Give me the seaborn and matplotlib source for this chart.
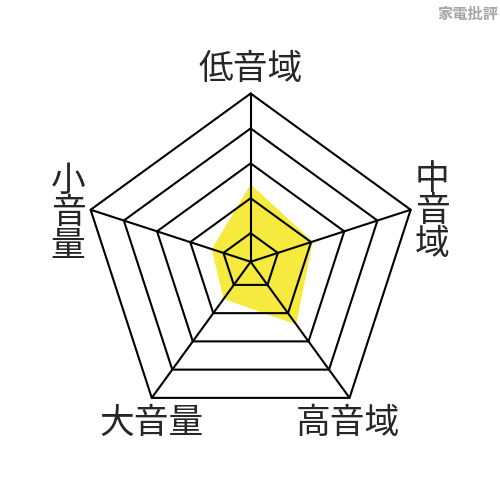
import numpy as np
import pandas as pd
import matplotlib
matplotlib.use("Agg")
import matplotlib.pyplot as plt
import seaborn as sns

# Dados do radar
categorias = ["低音域", "中音域", "高音域", "大音量", "小音量"]
valores = [2.4, 2.05, 2.4, 1.5, 1.35]
niveis = [1, 2, 3, 4, 5]
marca = "家電批評"

sns.set_theme(style="white")
plt.rcParams['font.family'] = ['Noto Sans CJK JP', 'DejaVu Sans']

n = len(categorias)
angulos = np.linspace(0, 2 * np.pi, n, endpoint=False)
ang_fechado = np.append(angulos, 2 * np.pi)

fig = plt.figure(figsize=(5, 5), dpi=100)
ax = fig.add_axes([0.1648, 0.14, 0.673, 0.673], projection="polar")
ax.set_theta_offset(np.pi / 2)
ax.set_theta_direction(-1)
ax.set_ylim(0.18, 5)
ax.grid(False)
ax.spines["polar"].set_visible(False)
ax.patch.set_alpha(0)

# Area amarela
v = np.append(valores, valores[0])
ax.fill(ang_fechado, v, color="#f5ea3d", lw=0, zorder=1)

# Aneis pentagonais
for nivel in niveis:
    df = pd.DataFrame({"ang": ang_fechado, "r": [nivel] * (n + 1)})
    sns.lineplot(data=df, x="ang", y="r", sort=False, estimator=None,
                 color="black", lw=1.5, ax=ax, zorder=3, clip_on=False)

# Raios
for a in angulos:
    ax.plot([a, a], [0.18, niveis[-1]], color="black", lw=1.5, zorder=3, clip_on=False)

ax.set_xticks([])
ax.set_yticks([])
ax.set_xlabel("")
ax.set_ylabel("")

# Rotulos
fs = 25
fig.text(0.501, 0.86, categorias[0], ha="center", va="center", fontsize=fs)
fig.text(0.864, 0.576, "\n".join(categorias[1]), ha="center", va="center",
         fontsize=fs, linespacing=0.92)
fig.text(0.696, 0.154, categorias[2], ha="center", va="center", fontsize=fs)
fig.text(0.304, 0.154, categorias[3], ha="center", va="center", fontsize=fs)
fig.text(0.136, 0.572, "\n".join(categorias[4]), ha="center", va="center",
         fontsize=fs, linespacing=0.92)

fig.text(0.935, 0.972, marca, ha="center", va="center", fontsize=11,
         color="#a5a5a5", fontweight="bold")

fig.savefig("out.png", dpi=100, facecolor="white")
